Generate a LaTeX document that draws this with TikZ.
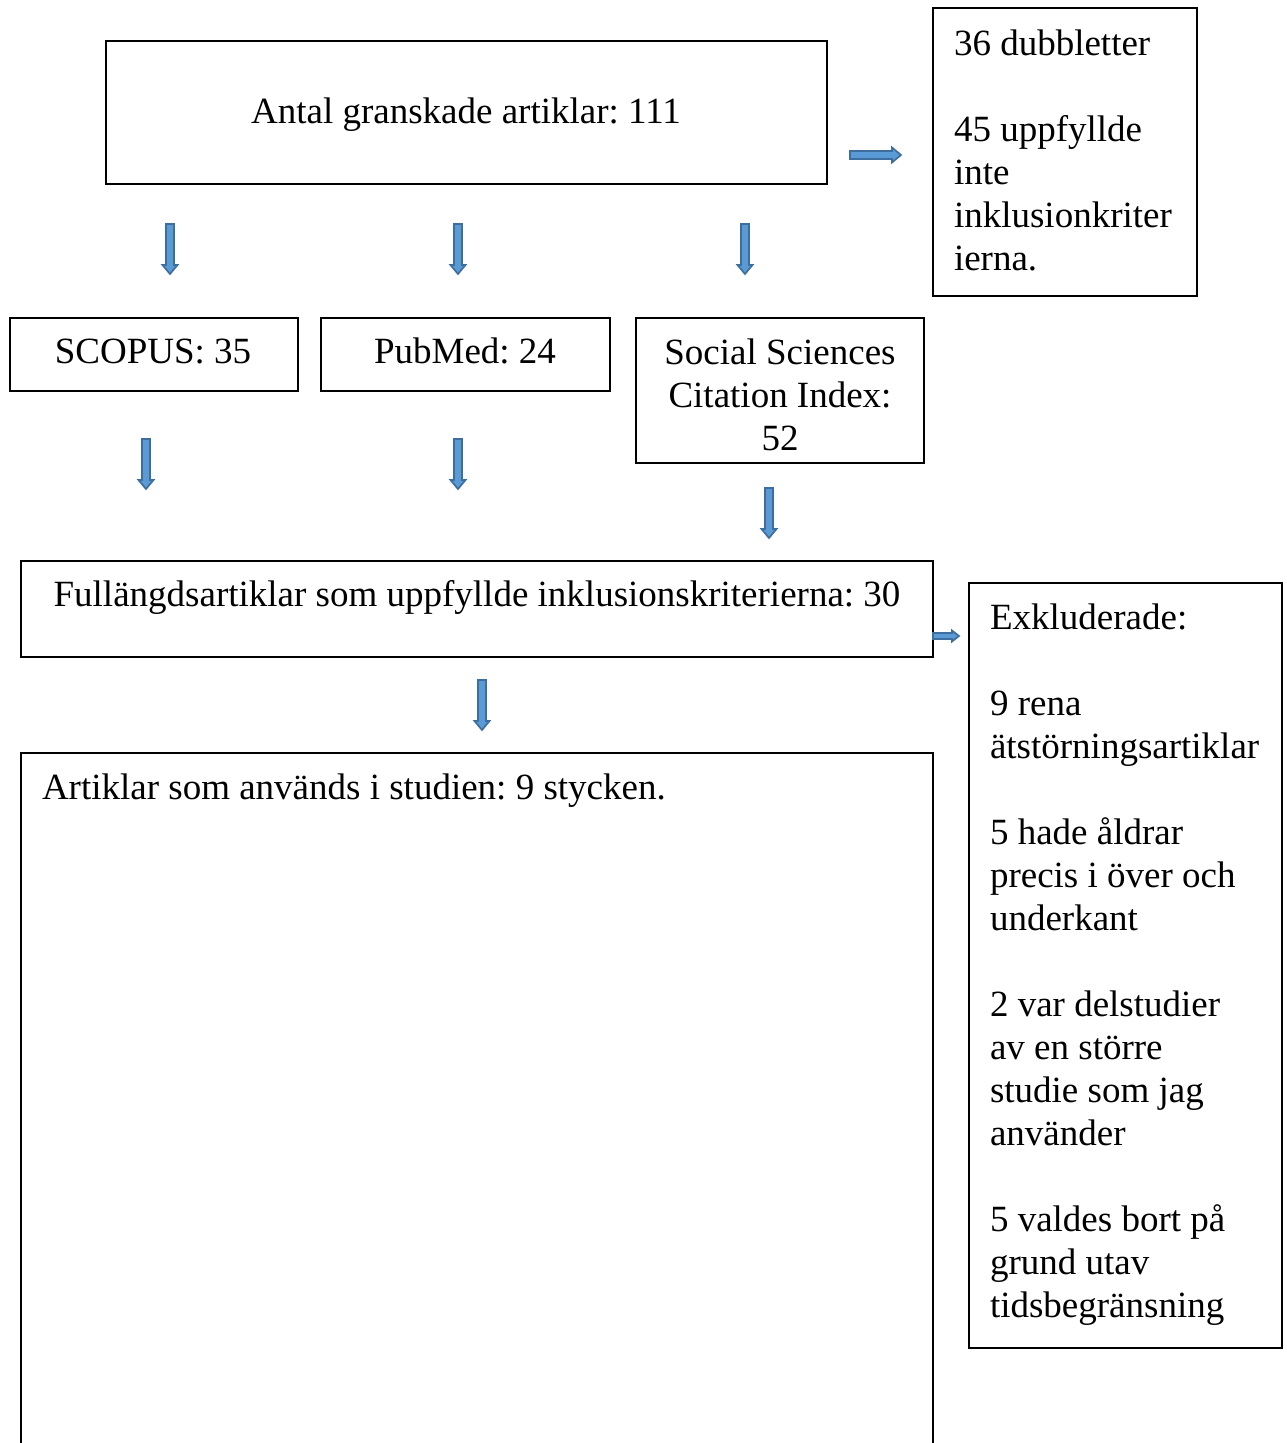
\documentclass[tikz,border=0pt]{standalone}
\usepackage{fontspec}
\setmainfont{Liberation Serif}
\frenchspacing
\usetikzlibrary{calc}
\definecolor{arrfill}{HTML}{5B9BD5}
\definecolor{arrline}{HTML}{3E6E9E}
% #1 start, #2 tip, #3 shaft half width, #4 head half width, #5 head length
\newcommand\myDownArrow[5]{%
  \filldraw[barrow] ($(#1)+(-#3,0)$) -- ($(#1)+(#3,0)$) -- ($(#2)+(#3,-#5)$) -- ($(#2)+(#4,-#5)$) -- (#2) -- ($(#2)+(-#4,-#5)$) -- ($(#2)+(-#3,-#5)$) -- cycle;}
\newcommand\myRightArrow[5]{%
  \filldraw[barrow] ($(#1)+(0,-#3)$) -- ($(#2)+(-#5,-#3)$) -- ($(#2)+(-#5,-#4)$) -- (#2) -- ($(#2)+(-#5,#4)$) -- ($(#2)+(-#5,#3)$) -- ($(#1)+(0,#3)$) -- cycle;}
\begin{document}
\begin{tikzpicture}[x=1pt,y=-1pt,
  every node/.style={inner sep=0pt, outer sep=0pt, font=\fontsize{37}{43}\selectfont},
  boxstyle/.style={draw=black, line width=2pt, rectangle},
  barrow/.style={fill=arrfill, draw=arrline, line width=1.7pt, line join=miter},
  txt/.style={align=left, anchor=north west},
  ctxt/.style={align=center, anchor=north}]
\useasboundingbox (0,0) rectangle (1287,1443);

% boxes
\node[boxstyle, minimum width=721pt, minimum height=143pt] (top) at (466.5,112.5) {};
\node[boxstyle, minimum width=264pt, minimum height=288pt] (dup) at (1065,152) {};
\node[boxstyle, minimum width=288pt, minimum height=73pt] (scopus) at (154,354.5) {};
\node[boxstyle, minimum width=289pt, minimum height=73pt] (pubmed) at (465.5,354.5) {};
\node[boxstyle, minimum width=288pt, minimum height=145pt] (ssci) at (780,390.5) {};
\node[boxstyle, minimum width=912pt, minimum height=96pt] (full) at (477,609) {};
\node[boxstyle, minimum width=313pt, minimum height=765pt] (excl) at (1125.5,965.5) {};
\coordinate (botNW) at (21,753);
\coordinate (botNE) at (933,753);
\coordinate (botSW) at (21,1450);
\coordinate (botSE) at (933,1450);
\draw[line width=2pt] (botSW) -- (botNW) -- (botNE) -- (botSE);

% texts
\node[anchor=base] (ttop) at (466,123) {Antal granskade artiklar: 111};
\node[txt] (tdup) at (954,24.9) {\strut 36 dubbletter\\[43pt]45 uppfyllde\\inte\\inklusionkriter\\ierna.};
\node[anchor=base] (tscopus) at (153,363) {SCOPUS: 35};
\node[anchor=base] (tpubmed) at (465,363) {PubMed: 24};
\node[ctxt] (tssci) at (780,333.9) {\strut Social Sciences\\Citation Index:\\52};
\node[anchor=base] (tfull) at (477,606) {Fullängdsartiklar som uppfyllde inklusionskriterierna: 30};
\node[txt] (texcl) at (990,598.9) {\strut Exkluderade:\\[43pt]9 rena\\ätstörningsartiklar\\[43pt]5 hade åldrar\\precis i över och\\underkant\\[43pt]2 var delstudier\\av en större\\studie som jag\\använder\\[43pt]5 valdes bort på\\grund utav\\tidsbegränsning};
\node[anchor=base west] (tbot) at (42,799) {Artiklar som används i studien: 9 stycken.};

% arrow coordinates
\coordinate (r1s) at (850,155); \coordinate (r1e) at (901,155);
\coordinate (d1s) at (170,224); \coordinate (d1e) at (170,274);
\coordinate (d2s) at (458,224); \coordinate (d2e) at (458,274);
\coordinate (d3s) at (745,224); \coordinate (d3e) at (745,274);
\coordinate (d4s) at (146,439); \coordinate (d4e) at (146,489);
\coordinate (d5s) at (458,439); \coordinate (d5e) at (458,489);
\coordinate (d6s) at (769,488); \coordinate (d6e) at (769,538);
\coordinate (d7s) at (482,680); \coordinate (d7e) at (482,730);
\coordinate (r2s) at (933,636); \coordinate (r2e) at (959,636);

\myRightArrow{r1s}{r1e}{4}{7.5}{9}
\myDownArrow{d1s}{d1e}{4}{7.5}{9}
\myDownArrow{d2s}{d2e}{4}{7.5}{9}
\myDownArrow{d3s}{d3e}{4}{7.5}{9}
\myDownArrow{d4s}{d4e}{4}{7.5}{9}
\myDownArrow{d5s}{d5e}{4}{7.5}{9}
\myDownArrow{d6s}{d6e}{4}{7.5}{9}
\myDownArrow{d7s}{d7e}{4}{7.5}{9}
\myRightArrow{r2s}{r2e}{3}{5.5}{7}
\end{tikzpicture}
\end{document}
